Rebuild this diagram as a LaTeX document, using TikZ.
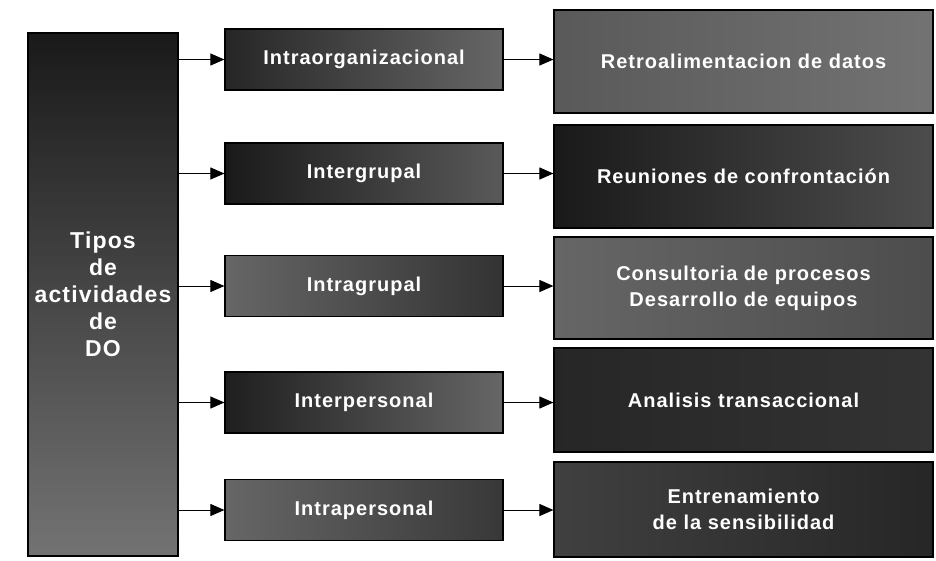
\documentclass[tikz,border=0pt]{standalone}
\usepackage{fontspec}
\setmainfont{Liberation Sans}
\newfontfamily\cajafont[LetterSpace=5]{Liberation Sans}
\usetikzlibrary{arrows.meta}
\tikzset{
  dobox/.style={draw=black, line width=1.2pt, text=white, align=center,
    inner sep=0pt, font=\cajafont\bfseries\fontsize{20}{26}\selectfont},
  flecha/.style={-{Triangle[length=14pt,width=12pt]}, line width=1pt}
}
\begin{document}
\begin{tikzpicture}[x=1pt,y=-1pt]
  \useasboundingbox[fill=white] (0,0) rectangle (936,560);
  % caja de la izquierda
  \node[dobox, minimum width=150, minimum height=523, top color=black!90, bottom color=black!55,
    font=\cajafont\bfseries\fontsize{23}{27}\selectfont]
    (tipos) at (103,294.5) {Tipos\\de\\actividades\\de\\DO};
  % tipos de actividades
  \node[dobox, minimum width=278, minimum height=61, left color=black!85, right color=black!60]
    (m1) at (364,59.5) {Intraorganizacional};
  \node[dobox, minimum width=278, minimum height=61, left color=black!90, right color=black!65]
    (m2) at (364,173.5) {Intergrupal};
  \node[dobox, minimum width=278, minimum height=61, left color=black!60, right color=black!80]
    (m3) at (364,286) {Intragrupal};
  \node[dobox, minimum width=278, minimum height=61, left color=black!88, right color=black!60]
    (m4) at (364,402.5) {Interpersonal};
  \node[dobox, minimum width=278, minimum height=61, left color=black!60, right color=black!78]
    (m5) at (364,510) {Intrapersonal};
  % actividades
  \node[dobox, minimum width=379, minimum height=103, left color=black!65, right color=black!55]
    (r1) at (743.5,61.5) {Retroalimentacion de datos};
  \node[dobox, minimum width=379, minimum height=103, left color=black!90, right color=black!70]
    (r2) at (743.5,176.5) {Reuniones de confrontación};
  \node[dobox, minimum width=379, minimum height=102, left color=black!60, right color=black!70]
    (r3) at (743.5,288) {Consultoria de procesos\\Desarrollo de equipos};
  \node[dobox, minimum width=379, minimum height=104, left color=black!85, right color=black!80]
    (r4) at (743.5,400) {Analisis transaccional};
  \node[dobox, minimum width=379, minimum height=95, left color=black!75, right color=black!85]
    (r5) at (743.5,509.5) {Entrenamiento\\de la sensibilidad};
  % flechas
  \draw[flecha] (tipos.east |- m1) -- (m1.west);
  \draw[flecha] (tipos.east |- m2) -- (m2.west);
  \draw[flecha] (tipos.east |- m3) -- (m3.west);
  \draw[flecha] (tipos.east |- m4) -- (m4.west);
  \draw[flecha] (tipos.east |- m5) -- (m5.west);
  \draw[flecha] (m1.east) -- (m1 -| r1.west);
  \draw[flecha] (m2.east) -- (m2 -| r2.west);
  \draw[flecha] (m3.east) -- (m3 -| r3.west);
  \draw[flecha] (m4.east) -- (m4 -| r4.west);
  \draw[flecha] (m5.east) -- (m5 -| r5.west);
\end{tikzpicture}
\end{document}
